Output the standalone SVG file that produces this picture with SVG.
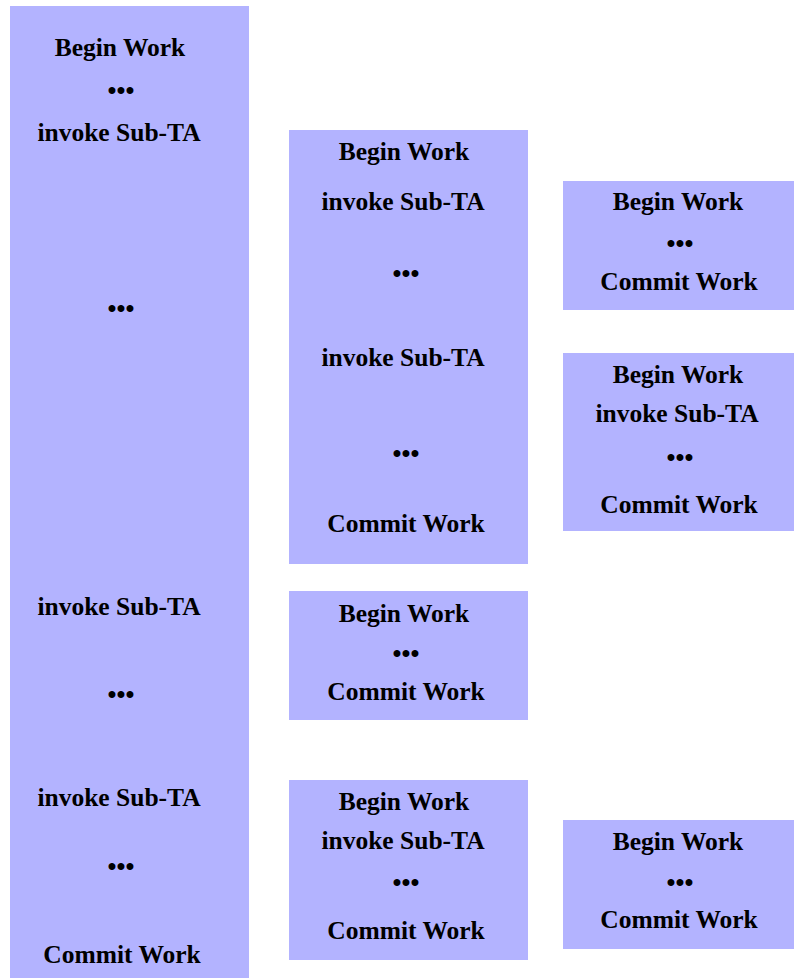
<svg xmlns="http://www.w3.org/2000/svg" width="794" height="978" viewBox="0 0 794 978">
  <style>
    .box { fill: #b3b3ff; }
    .t { font-family: "Liberation Serif", "Times New Roman", serif; font-weight: bold; font-size: 25.5px; fill: #000; text-anchor: middle; }
  </style>
  <rect width="794" height="978" fill="#ffffff"/>

  <!-- outer transaction -->
  <g id="ta-main">
    <rect class="box" x="10" y="6" width="239" height="972"/>
    <text class="t" x="120" y="56">Begin Work</text>
    <text class="t" x="121" y="99">•••</text>
    <text class="t" x="119" y="141">invoke Sub-TA</text>
    <text class="t" x="121" y="317">•••</text>
    <text class="t" x="119" y="615">invoke Sub-TA</text>
    <text class="t" x="121" y="703">•••</text>
    <text class="t" x="119" y="806">invoke Sub-TA</text>
    <text class="t" x="121" y="875">•••</text>
    <text class="t" x="122" y="963">Commit Work</text>
  </g>

  <!-- second level sub-transactions -->
  <g id="sub-ta-1">
    <rect class="box" x="289" y="130" width="239" height="434"/>
    <text class="t" x="404" y="160">Begin Work</text>
    <text class="t" x="403" y="210">invoke Sub-TA</text>
    <text class="t" x="406" y="282">•••</text>
    <text class="t" x="403" y="366">invoke Sub-TA</text>
    <text class="t" x="406" y="462">•••</text>
    <text class="t" x="406" y="532">Commit Work</text>
  </g>

  <g id="sub-ta-2">
    <rect class="box" x="289" y="591" width="239" height="129"/>
    <text class="t" x="404" y="622">Begin Work</text>
    <text class="t" x="406" y="662">•••</text>
    <text class="t" x="406" y="700">Commit Work</text>
  </g>

  <g id="sub-ta-3">
    <rect class="box" x="289" y="780" width="239" height="180"/>
    <text class="t" x="404" y="810">Begin Work</text>
    <text class="t" x="403" y="849">invoke Sub-TA</text>
    <text class="t" x="406" y="891">•••</text>
    <text class="t" x="406" y="939">Commit Work</text>
  </g>

  <!-- third level sub-transactions -->
  <g id="sub-ta-1-1">
    <rect class="box" x="563" y="181" width="231" height="129"/>
    <text class="t" x="678" y="210">Begin Work</text>
    <text class="t" x="680" y="252">•••</text>
    <text class="t" x="679" y="290">Commit Work</text>
  </g>

  <g id="sub-ta-1-2">
    <rect class="box" x="563" y="353" width="231" height="178"/>
    <text class="t" x="678" y="383">Begin Work</text>
    <text class="t" x="677" y="422">invoke Sub-TA</text>
    <text class="t" x="680" y="466">•••</text>
    <text class="t" x="679" y="513">Commit Work</text>
  </g>

  <g id="sub-ta-3-1">
    <rect class="box" x="563" y="820" width="231" height="129"/>
    <text class="t" x="678" y="850">Begin Work</text>
    <text class="t" x="680" y="891">•••</text>
    <text class="t" x="679" y="928">Commit Work</text>
  </g>

  <g id="connectors"/>
</svg>
